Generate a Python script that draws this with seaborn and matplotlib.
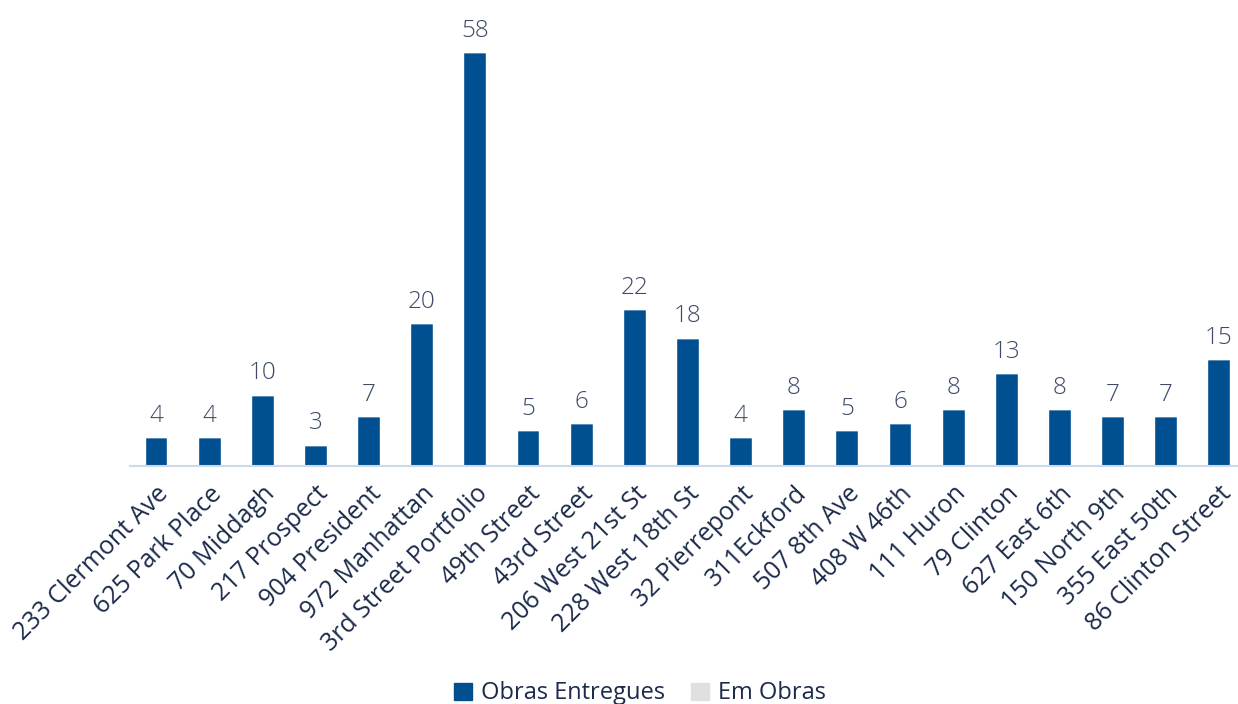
import matplotlib
matplotlib.use("Agg")
import matplotlib.pyplot as plt
import seaborn as sns
import pandas as pd
from matplotlib.patches import Patch

properties = ["233 Clermont Ave", "625 Park Place", "70 Middagh", "217 Prospect", "904 President",
              "972 Manhattan", "3rd Street Portfolio", "49th Street", "43rd Street", "206 West 21st St",
              "228 West 18th St", "32 Pierrepont", "311Eckford", "507 8th Ave", "408 W 46th",
              "111 Huron", "79 Clinton", "627 East 6th", "150 North 9th", "355 East 50th",
              "86 Clinton Street"]
obras_entregues = [4, 4, 10, 3, 7, 20, 58, 5, 6, 22, 18, 4, 8, 5, 6, 8, 13, 8, 7, 7, 15]
em_obras = [0] * len(properties)

df = pd.DataFrame({"Imóvel": properties, "Obras Entregues": obras_entregues, "Em Obras": em_obras})

sns.set_theme(style="white")
plt.rcParams['font.family'] = ['Open Sans', 'DejaVu Sans']

blue = "#004f91"
grey = "#e0e0e0"
text_col = "#1c2b4b"
label_col = "#3e4a66"

fig = plt.figure(figsize=(12.38, 7.04), dpi=100)
ax = fig.add_axes([0.105, 0.338, 0.895, 0.588])

sns.barplot(data=df, x="Imóvel", y="Obras Entregues", color=blue, width=0.43, ax=ax, saturation=1)
bars = list(ax.patches)
ax.bar(range(len(properties)), em_obras, bottom=obras_entregues, width=0.43, color=grey)

for b, v in zip(bars, obras_entregues):
    ax.text(b.get_x() + b.get_width() / 2, b.get_height() + 1.3, str(v), ha="center", va="bottom",
            fontsize=17.5, color=label_col, fontweight="light")

ax.set_ylim(0, 58)
ax.set_xlim(-0.49, 20.36)
ax.set_yticks([])
ax.set_xlabel("")
ax.set_ylabel("")
for s in ["top", "right", "left"]:
    ax.spines[s].set_visible(False)
ax.spines["bottom"].set_color("#d0d9ea")
ax.spines["bottom"].set_linewidth(1.5)
ax.tick_params(axis="x", length=0, pad=11)
ax.set_xticks(range(len(properties)))
ax.set_xticklabels(properties, rotation=45, ha="right", rotation_mode="anchor", fontsize=18, color=text_col)

handles = [Patch(color=blue, label="Obras Entregues"), Patch(color=grey, label="Em Obras")]
fig.legend(handles=handles, loc="center", bbox_to_anchor=(0.517, 0.015), ncol=2, frameon=False,
           fontsize=17, handlelength=0.75, handleheight=0.75, columnspacing=1.1, handletextpad=0.4,
           labelcolor=text_col)

fig.savefig("out.png", dpi=100)
